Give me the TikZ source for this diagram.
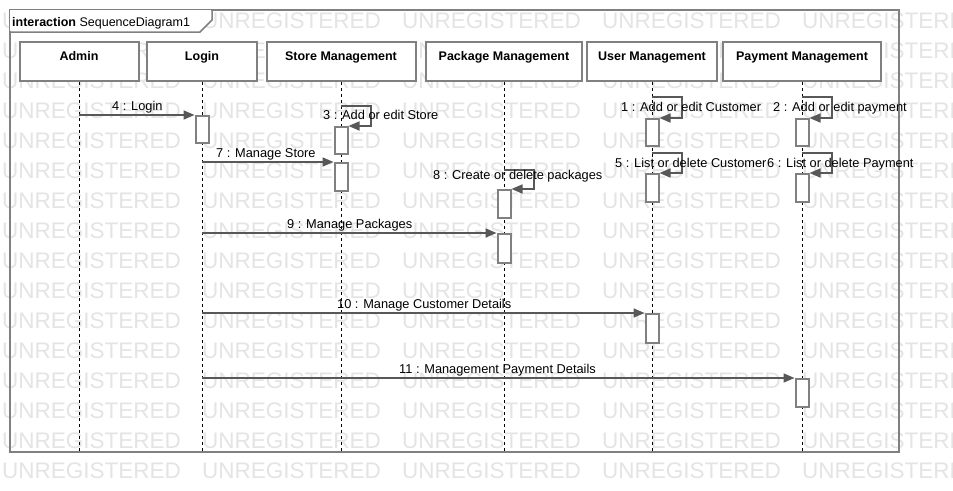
\documentclass[tikz,border=0pt]{standalone}
\usepackage{fontspec}
\setmainfont{Liberation Sans}
\usetikzlibrary{arrows.meta}
\definecolor{wm}{RGB}{228,228,228}
\definecolor{boxc}{RGB}{128,128,128}
\definecolor{msgc}{RGB}{88,88,88}
\begin{document}
\begin{tikzpicture}[x=1pt,y=-1pt,
  head/.style={draw=boxc,fill=white,line width=2pt,minimum height=39pt,text height=18pt,text depth=21pt,
    inner ysep=0pt,inner xsep=0pt,anchor=north,font=\fontsize{12.5}{15}\selectfont\bfseries},
  act/.style={draw=boxc,fill=white,line width=2pt,minimum width=13pt,inner sep=0pt,anchor=north},
  msg/.style={draw=msgc,line width=1.6pt,-{Triangle[length=11pt,width=9pt]}},
  lbl/.style={font=\fontsize{12.8}{15}\selectfont,inner sep=0pt,anchor=base west},
  life/.style={draw=black,line width=0.8pt,dash pattern=on 3pt off 3pt},
  wmk/.style={font=\fontsize{22.5}{24}\selectfont,text=wm,anchor=base west,inner sep=0pt}]
\useasboundingbox (0,0) rectangle (953,490);
\fill[white] (0,0) rectangle (953,490);
% watermark
\begin{scope}
  \clip (0,0) rectangle (953,490);
  \foreach \r in {0,...,15}{
    \foreach \c in {0,...,4}{
      \node[wmk] (w\r-\c) at (2+200*\c, 28+30*\r) {UNREGISTERED};
    }
  }
\end{scope}
% frame
\node[draw=boxc,line width=2pt,minimum width=889pt,minimum height=442pt,inner sep=0pt,anchor=north west] (frame) at (9,9) {};
\fill[white] (10,10) -- (211,10) -- (211,20) -- (200,31) -- (10,31) -- cycle;
\draw[boxc,line width=1.5pt] (9,32) -- (200,32) -- (212,20) -- (212,9);
\node[lbl,font=\fontsize{12.5}{15}\selectfont] (title) at (12,26) {\textbf{interaction} SequenceDiagram1};
% lifeline heads
\node[head,minimum width=119pt] (admin) at (79,41) {Admin};
\node[head,minimum width=110pt] (login) at (202,41) {Login};
\node[head,minimum width=149pt] (store) at (341,41) {Store Management};
\node[head,minimum width=156pt] (pack) at (504,41) {Package Management};
\node[head,minimum width=130pt] (user) at (652,41) {User Management};
\node[head,minimum width=158pt] (pay) at (802,41) {Payment Management};
% lifelines
\foreach \n in {admin,login,store,pack,user,pay}{
  \draw[life] (\n.south) -- (\n.south |- frame.south);
}
% activations
\node[act,minimum height=27pt] (a4) at (202,115) {};
\node[act,minimum height=27pt] (a3) at (341,126) {};
\node[act,minimum height=28pt] (a7) at (341,162) {};
\node[act,minimum height=28pt] (a8) at (504,189) {};
\node[act,minimum height=29pt] (a9) at (504,233) {};
\node[act,minimum height=27pt] (a1) at (652,118) {};
\node[act,minimum height=28pt] (a5) at (652,173) {};
\node[act,minimum height=27pt] (a2) at (802,118) {};
\node[act,minimum height=28pt] (a6) at (802,173) {};
\node[act,minimum height=29pt] (a10) at (652,313) {};
\node[act,minimum height=28pt] (a11) at (802,378) {};
% messages between lifelines
\draw[msg] (admin.south |- a4.north) -- (a4.north west);
\draw[msg] (login.south |- a7.north) -- (a7.north west);
\draw[msg] (login.south |- a9.north) -- (a9.north west);
\draw[msg] (login.south |- a10.north) -- (a10.north west);
\draw[msg] (login.south |- a11.north) -- (a11.north west);
% self messages
\coordinate (s3) at (341,106);
\coordinate (s8) at (504,170);
\coordinate (s1) at (652,97);
\coordinate (s5) at (652,153);
\coordinate (s2) at (802,97);
\coordinate (s6) at (802,153);
\draw[msg] (s3) -- ++(30,0) |- (a3.north east);
\draw[msg] (s8) -- ++(30,0) |- (a8.north east);
\draw[msg] (s1) -- ++(30,0) |- (a1.north east);
\draw[msg] (s5) -- ++(30,0) |- (a5.north east);
\draw[msg] (s2) -- ++(30,0) |- (a2.north east);
\draw[msg] (s6) -- ++(30,0) |- (a6.north east);
% labels
\node[lbl] (l4) at (112,110) {4 : Login};
\node[lbl] (l3) at (323,119.5) {3 : Add or edit Store};
\node[lbl] (l7) at (216,157) {7 : Manage Store};
\node[lbl] (l8) at (433,179.5) {8 : Create or delete packages};
\node[lbl] (l9) at (287,228) {9 : Manage Packages};
\node[lbl] (l1) at (621,111) {1 : Add or edit Customer};
\node[lbl] (l2) at (773,111) {2 : Add or edit payment};
\node[lbl] (l5) at (615,167) {5 : List or delete Customer};
\node[lbl] (l6) at (767,167) {6 : List or delete Payment};
\node[lbl] (l10) at (337,308) {10 : Manage Customer Details};
\node[lbl] (l11) at (399,373) {11 : Management Payment Details};
\end{tikzpicture}
\end{document}
